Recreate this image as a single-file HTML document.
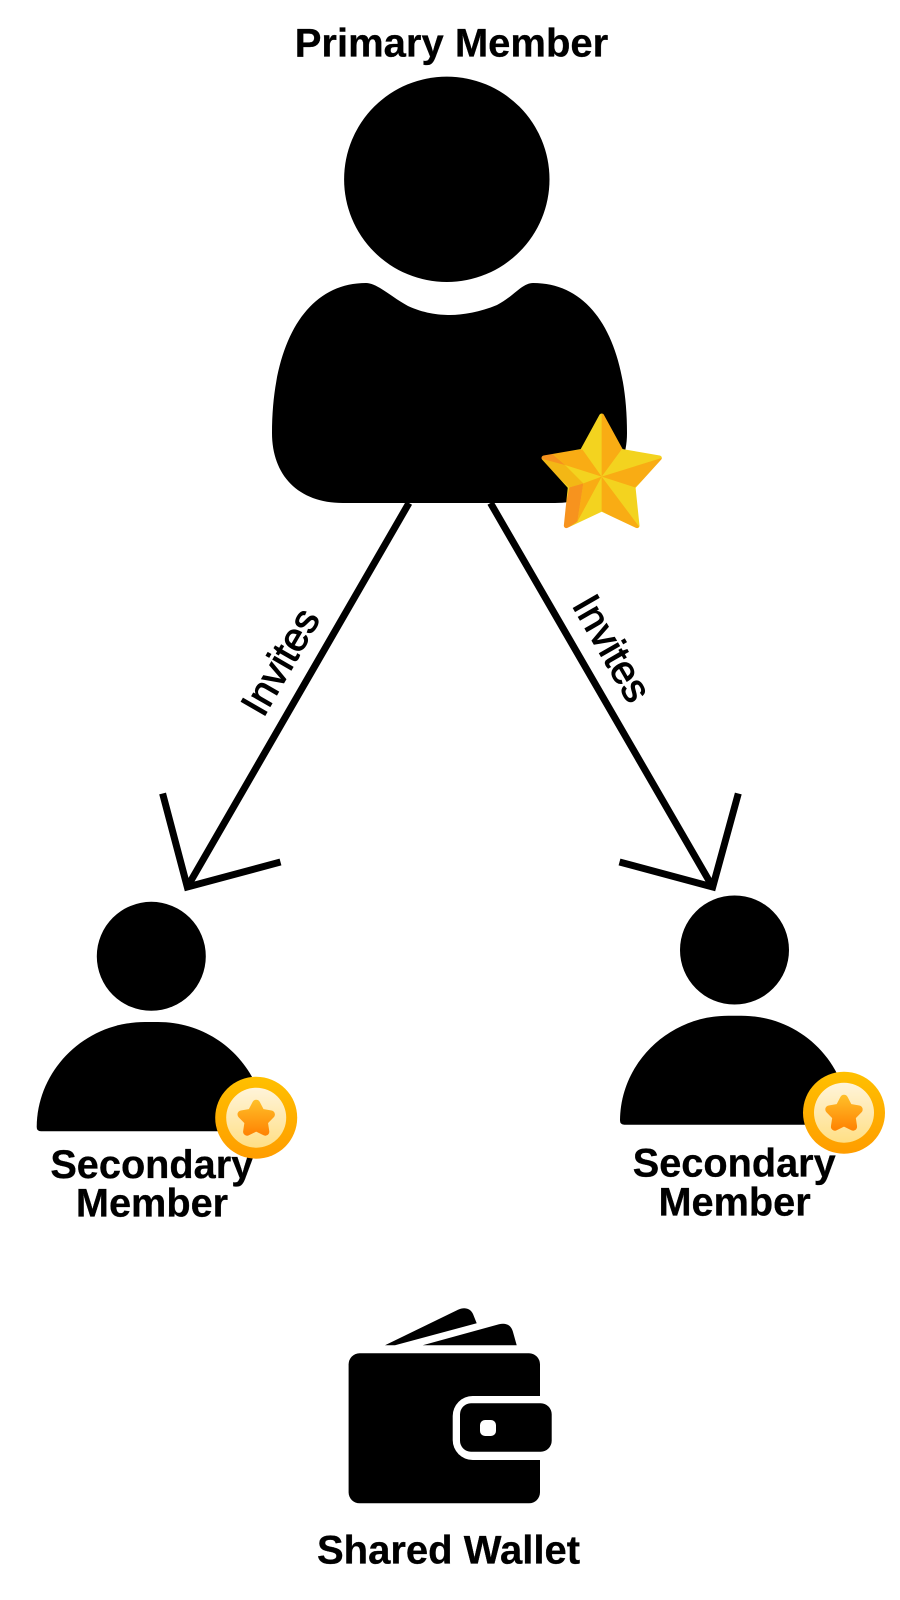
<!DOCTYPE html>
<html>
<head>
<meta charset="utf-8">
<style>
html,body{margin:0;padding:0;background:#fff;width:900px;height:1600px;overflow:hidden}
svg{display:block}
text{font-family:"Liberation Sans",sans-serif;fill:#000}
.b{font-weight:bold;font-size:40px;text-anchor:middle;stroke:#000;stroke-width:.3px}
.m{font-size:39.7px}
.i{font-size:40px;text-anchor:middle;stroke:#000;stroke-width:1px}
</style>
</head>
<body>
<svg width="900" height="1600" viewBox="0 0 900 1600" xmlns="http://www.w3.org/2000/svg">
<defs>
<linearGradient id="ring" x1="0" y1="0" x2="0" y2="1"><stop offset="0" stop-color="#FFC000"/><stop offset="1" stop-color="#FF9D00"/></linearGradient>
<linearGradient id="face" x1="0" y1="0" x2="0" y2="1"><stop offset="0" stop-color="#FFF4DA"/><stop offset="1" stop-color="#FFDF85"/></linearGradient>
<linearGradient id="st" gradientUnits="userSpaceOnUse" x1="0" y1="-18" x2="0" y2="18"><stop offset="0" stop-color="#FFBE28"/><stop offset="1" stop-color="#FF7F00"/></linearGradient>
<mask id="starMask" maskUnits="userSpaceOnUse" x="0" y="0" width="600" height="600">
<polygon fill="#fff" stroke="#fff" stroke-width="15" stroke-linejoin="round" points="305,108 363,214 478,234 399,321 411,437 305,387 199,437 211,321 132,234 247,214"/>
</mask>
</defs>

<text class="b" x="451.5" y="56.6">Primary Member</text>

<!-- Primary member -->
<circle cx="446.8" cy="179.3" r="102.7" fill="#000"/>
<path fill="#000" d="M366,283 C377,283 390,296 408,306 C423,313 438,315 450,315 C463,315 480,312 497,305 C513,297 522,283 533,283 C595,283 627,345 627,433 C627,478 595,503 555,503 L343,503 C298,503 272,475 272,433 C272,345 305,283 366,283 Z"/>

<!-- Connectors -->
<g fill="none" stroke="#000" stroke-width="7" stroke-miterlimit="10">
<path d="M409,503 L187.3,887"/>
<path d="M162.6,793.5 L187.3,887 L280.5,862"/>
<path d="M490.5,503 L712.7,887"/>
<path d="M738.3,793.5 L712.7,887 L619.5,862"/>
</g>
<text class="i" transform="translate(280,661.5) rotate(-60)" y="14">Invites</text>
<text class="i" transform="translate(612.5,648) rotate(60)" y="14">Invites</text>

<!-- Gold star -->
<g transform="translate(500,380) scale(.33333)">
<g mask="url(#starMask)">
<rect x="100" y="80" width="420" height="390" fill="#F3D31F"/>
<polygon fill="#F9AC14" points="305,290 305,80 375,190 365,208"/>
<polygon fill="#F9AC14" points="305,290 510,226 405,322"/>
<polygon fill="#F9AC14" points="305,290 440,470 305,393"/>
<polygon fill="#F9AC14" points="305,290 247,208 100,225 195,255"/>
<polygon fill="#F9AC14" points="305,290 250,310 232,425"/>
<polygon fill="#F3B715" points="100,225 165,225 195,255 250,310 208,322"/>
<polygon fill="#F7931E" points="100,220 155,220 195,255 120,235"/>
<polygon fill="#F7931E" points="208,322 250,310 232,425 180,460"/>
</g>
</g>

<!-- Secondary left -->
<circle cx="151.3" cy="956.3" r="54.5" fill="#000"/>
<path fill="#000" d="M41,1131.3 Q36.7,1131.3 36.7,1127 C37,1070 85,1022 145,1022 L158,1022 C218,1022 266,1070 266,1131.3 Z"/>
<text class="b m" x="151.8" y="1178">Secondary</text>
<text class="b m" x="152" y="1216.5">Member</text>
<g transform="translate(256.2,1117.7)">
<circle r="41" fill="url(#ring)"/>
<circle r="30" fill="url(#face)"/>
<polygon transform="translate(0,1.5)" fill="url(#st)" stroke="url(#st)" stroke-width="8" stroke-linejoin="round" points="0,-15.5 4.7,-6.5 14.7,-4.8 7.6,2.5 9.1,12.5 0,8 -9.1,12.5 -7.6,2.5 -14.7,-4.8 -4.7,-6.5"/>
</g>

<!-- Secondary right -->
<circle cx="734.5" cy="950" r="54.5" fill="#000"/>
<path fill="#000" d="M624.3,1124.7 Q620,1124.7 620,1120.4 C620.3,1063.4 668.3,1015.7 728.3,1015.7 L741.3,1015.7 C801.3,1015.7 849.3,1063.4 849.3,1124.7 Z"/>
<text class="b m" x="734.2" y="1176.7">Secondary</text>
<text class="b m" x="734.6" y="1215.5">Member</text>
<g transform="translate(844,1112.7)">
<circle r="41" fill="url(#ring)"/>
<circle r="30" fill="url(#face)"/>
<polygon transform="translate(0,1.5)" fill="url(#st)" stroke="url(#st)" stroke-width="8" stroke-linejoin="round" points="0,-15.5 4.7,-6.5 14.7,-4.8 7.6,2.5 9.1,12.5 0,8 -9.1,12.5 -7.6,2.5 -14.7,-4.8 -4.7,-6.5"/>
</g>

<!-- Wallet -->
<path fill="#000" d="M385,1345.3 L458,1309.8 C464,1307 470,1308 473,1314 L476.7,1323.3 L395,1345.3 Z"/>
<path fill="#000" d="M422.7,1345.3 L499,1324.3 C506,1322.5 511,1325 513,1332 L516.7,1345.3 Z"/>
<rect x="348.6" y="1353.3" width="191.4" height="150" rx="11" fill="#000"/>
<rect x="452.7" y="1396" width="120" height="64" rx="20" fill="#fff"/>
<rect x="460" y="1403.3" width="91.7" height="48.4" rx="11" fill="#000"/>
<rect x="480" y="1420" width="16" height="16" rx="5" fill="#fff"/>
<text class="b" x="448.5" y="1563.5">Shared Wallet</text>
</svg>
</body>
</html>
